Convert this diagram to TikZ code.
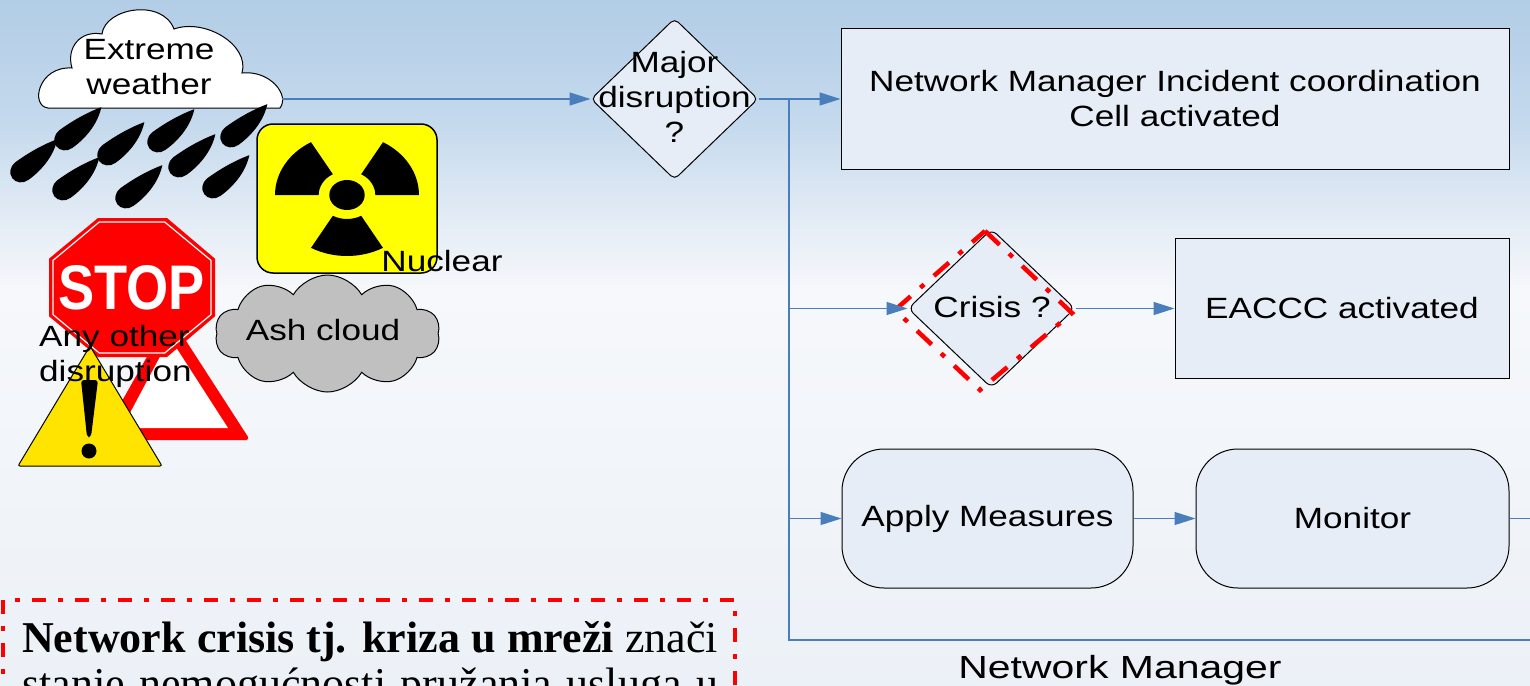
\documentclass[tikz,border=0pt]{standalone}
\usepackage{fontspec}
\setmainfont{Liberation Sans}
\newfontfamily\dgfont{Liberation Sans}[FakeStretch=1.2]
\newfontfamily\dgwide{Liberation Sans}[FakeStretch=1.28]
\newfontfamily\stopfont{Liberation Sans}[FakeStretch=0.86]
\newfontfamily\serfont{Liberation Serif}
\usetikzlibrary{shapes.geometric,shapes.symbols,arrows.meta}
\definecolor{skytop}{RGB}{178,205,230}
\definecolor{skymid}{RGB}{196,217,237}
\definecolor{skypale}{RGB}{226,235,245}
\definecolor{skywhite}{RGB}{246,248,251}
\definecolor{skylow}{RGB}{236,241,247}
\definecolor{boxfill}{RGB}{231,237,247}
\definecolor{connblue}{RGB}{74,126,187}
\definecolor{ashgray}{RGB}{192,192,192}
\definecolor{nucyellow}{RGB}{255,255,0}
\definecolor{warnyellow}{RGB}{255,228,0}
\definecolor{stopred}{RGB}{255,0,0}
\pgfdeclareverticalshading{skyshade}{100bp}{color(0bp)=(skylow); color(25bp)=(skylow); color(53.8bp)=(skywhite); color(59.3bp)=(skypale); color(66.2bp)=(skymid); color(75bp)=(skytop); color(100bp)=(skytop)}
\tikzset{
  dg/.style={font=\dgfont\fontsize{29.3}{35}\selectfont, align=center, inner sep=0pt},
  procbox/.style={draw=black, line width=1pt, fill=boxfill, inner sep=0pt},
  conn/.style={draw=connblue, line width=1.3pt},
  arr/.style={conn, -{Triangle[length=21pt,width=13pt]}},
  reddash/.style={draw=stopred, line width=4.5pt, dash pattern=on 20pt off 13pt on 5pt off 13pt},
  reddashb/.style={draw=stopred, line width=4pt, dash pattern=on 14pt off 12pt on 5pt off 12pt},
  pics/raindrop/.style={code={
    \fill[black] (0,-11) arc[start angle=-90, end angle=-270, radius=11]
      .. controls (16,11) and (32,6) .. (43,-5)
      .. controls (30,-9) and (15,-11) .. (0,-11) -- cycle;}}
}
\begin{document}
\begin{tikzpicture}[x=1pt,y=-1pt]
\useasboundingbox (0,0) rectangle (1530,685);
\shade[shading=skyshade] (0,0) rectangle (1530,685);

% Extreme weather cloud
\draw[fill=white, line width=1pt] (48,108) .. controls (30,106) and (38,66) .. (72,68)
  .. controls (66,48) and (80,30) .. (102,34)
  .. controls (105,8) and (162,-2) .. (174,29)
  .. controls (205,18) and (250,45) .. (242,73)
  .. controls (270,70) and (290,95) .. (280,108) -- cycle;
\node[dg] (ew) at (149,67) {Extreme\\weather};

% rain
\foreach \x/\y in {22/171,66/139,109/154,159/141,232/136,180/166,64/189,127/197,214/187}
  \pic[rotate=36, xscale=1.1] at (\x,\y) {raindrop};

% nuclear sign
\draw[fill=nucyellow, line width=1.5pt, rounded corners=16pt] (257,124) rectangle (437,273);
\begin{scope}[shift={(347,195)}, xscale=1.18]
  \fill (0,0) circle[radius=15];
  \foreach \a in {-60,-180,60}
    \fill (\a:61) arc[start angle=\a, end angle=\a+60, radius=61] -- (\a+60:24) arc[start angle=\a+60, end angle=\a, radius=24] -- cycle;
\end{scope}
\node[dg] (nuc) at (442,261.3) {Nuclear};

% ash cloud
\node[cloud, cloud puffs=10, cloud puff arc=120, aspect=1.9, draw, line width=1pt, fill=ashgray, minimum width=225pt, minimum height=117pt, inner sep=0pt] (ash) at (327.5,333.5) {};
\node[dg] (ashtxt) at (323,330.5) {Ash cloud};

% red warning triangle
\fill[stopred, rounded corners=4pt] (170,316) -- (250,440) -- (100,440) -- cycle;
\fill[white] (170,338) -- (228,428) -- (122,428) -- cycle;

% stop sign
\fill[stopred] (98,218) -- (167,218) -- (215,258.7) -- (215,316.3) -- (167,357) -- (98,357) -- (49,316.3) -- (49,258.7) -- cycle;
\draw[white, line width=1.2pt] (99.3,222) -- (164.7,222) -- (211,260.4) -- (211,314.6) -- (164.7,353) -- (99.3,353) -- (53,314.6) -- (53,260.4) -- cycle;
\node[text=white, font=\stopfont\bfseries\fontsize{63}{63}\selectfont, inner sep=0pt] (stop) at (131.5,287.5) {STOP};

% yellow warning triangle
\draw[fill=warnyellow, line width=1pt, rounded corners=2pt] (90,346) -- (162,466) -- (18,466) -- cycle;
\fill[black, rounded corners=3pt] (81,380) -- (98,380) -- (91,437) -- (87,437) -- cycle;
\fill[black] (89,451) circle[radius=7.5];

\node[dg, align=left, anchor=west] (other) at (39,356.4) {Any other\\disruption};

% flow nodes
\node[procbox, dg, minimum width=668pt, minimum height=140pt] (nmicc) at (1175,99) {Network Manager Incident coordination\\Cell activated};
\node[procbox, dg, minimum width=334pt, minimum height=140pt] (eaccc) at (1342,308.5) {EACCC activated};
\node[procbox, dg, rounded corners=42pt, minimum width=291pt, minimum height=139pt] (apply) at (987.5,518.5) {Apply Measures};
\node[procbox, dg, rounded corners=42pt, minimum width=313pt, minimum height=139pt] (monitor) at (1352.5,518.5) {Monitor};
\node[procbox, diamond, rounded corners=5pt, minimum width=167pt, minimum height=161pt] (major) at (674.5,99) {};
\node[dg] (majortxt) at (674.5,97) {Major\\disruption\\?};
\node[procbox, diamond, rounded corners=7pt, minimum width=167pt, minimum height=159pt] (crisis) at (991.5,308.5) {};
\node[dg] (crisistxt) at (992,307.5) {Crisis ?};

\draw[reddash] (985,231) -- (1072,313) -- (980,390) -- (895,310) -- cycle;

% connectors
\coordinate (cloudR) at (282,99);
\coordinate (j0) at (789,99);
\coordinate (j1) at (789,308.5);
\coordinate (j2) at (789,518.5);
\coordinate (j3) at (789,640);
\coordinate (e1) at (1530,640);
\coordinate (e2) at (1530,518.5);
\draw[arr] (cloudR) -- (major.west);
\draw[arr] (major.east) -- (nmicc.west);
\draw[conn] (j0) -- (j3) -- (e1);
\draw[arr] (j1) -- (crisis.west);
\draw[arr] (crisis.east) -- (eaccc.west);
\draw[arr] (j2) -- (apply.west);
\draw[arr] (apply.east) -- (monitor.west);
\draw[conn] (monitor.east) -- (e2);

\node[font=\dgwide\fontsize{32}{38}\selectfont, inner sep=0pt] (nmlabel) at (1120,670) {Network Manager};

% definition text box
\draw[reddashb] (3,700) -- (3,600) -- (735,600) -- (735,700);
\node[anchor=base west, inner sep=0pt, font=\serfont\fontsize{44}{46}\selectfont] (t1) at (22,652) {\makebox[696pt][s]{\textbf{Network crisis tj. kriza u mreži} znači}};
\node[anchor=base west, inner sep=0pt, font=\serfont\fontsize{44}{46}\selectfont] (t2) at (22,698) {\makebox[696pt][s]{stanje nemogućnosti pružanja usluga u}};
\end{tikzpicture}
\end{document}
